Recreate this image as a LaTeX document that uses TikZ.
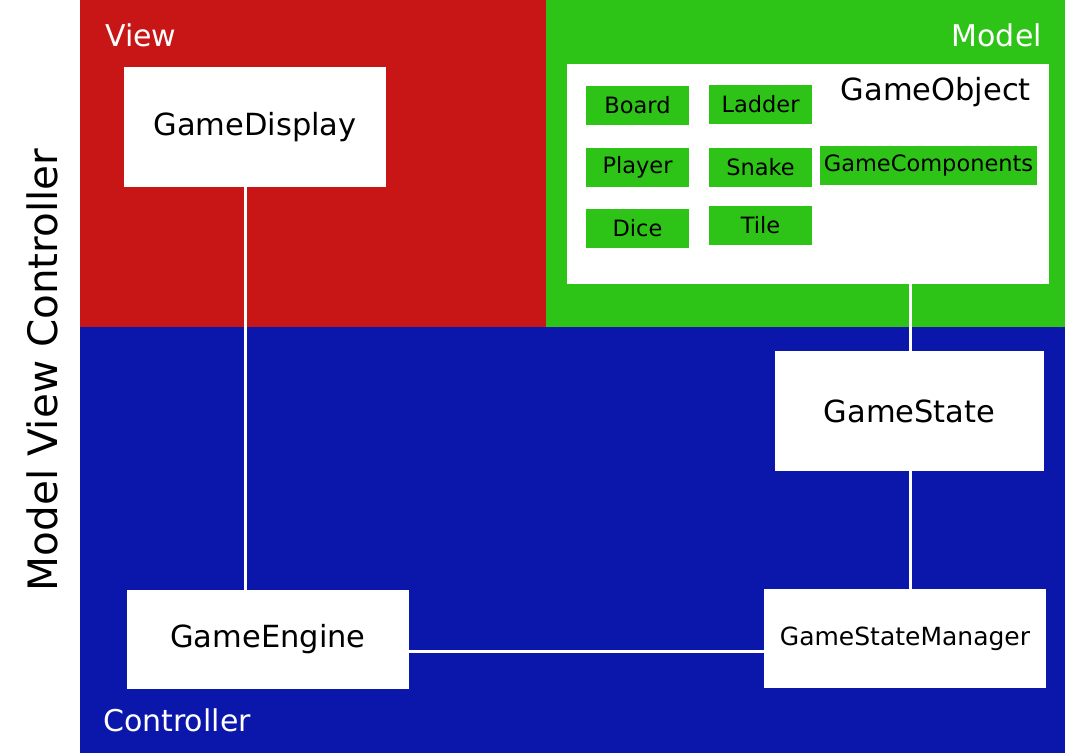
\documentclass[tikz,border=0pt]{standalone}
\usepackage{fontspec}
\setmainfont{DejaVu Sans}
\definecolor{vred}{RGB}{200,22,22}
\definecolor{mgreen}{RGB}{46,196,23}
\definecolor{cblue}{RGB}{11,23,170}
\tikzset{
  wbox/.style={fill=white,draw=none,inner sep=0pt,outer sep=0pt,font=\fontsize{30.5}{30.5}\selectfont},
  gbox/.style={fill=mgreen,draw=none,inner sep=0pt,outer sep=0pt,font=\fontsize{22.5}{22.5}\selectfont},
  rlabel/.style={text=white,inner sep=0pt,font=\fontsize{30}{30}\selectfont},
  link/.style={draw=white,line width=3pt}
}
\begin{document}
\begin{tikzpicture}[x=1pt,y=-1pt]
\useasboundingbox (0,0) rectangle (1065,753);
\fill[white] (0,0) rectangle (1065,753);
% regions
\fill[vred] (80,0) rectangle (546,327);
\fill[mgreen] (546,0) rectangle (1065,327);
\fill[cblue] (80,327) rectangle (1065,753);
% region labels
\node[rlabel,anchor=west] (lview) at (105,35) {View};
\node[rlabel,anchor=east] (lmodel) at (1042,35) {Model};
\node[rlabel,anchor=west] (lctrl) at (103,720) {Controller};
\node[rotate=90,inner sep=0pt,font=\fontsize{40.5}{40.5}\selectfont] (title) at (42,370) {Model View Controller};
% boxes
\node[wbox,minimum width=262,minimum height=120] (disp) at (255,127) {\raisebox{-2pt}{GameDisplay}};
\node[wbox,minimum width=482,minimum height=220] (gobj) at (808,174) {};
\node[inner sep=0pt,anchor=east,font=\fontsize{30.5}{30.5}\selectfont] (gobjl) at (1031,92) {GameObject};
\node[wbox,minimum width=269,minimum height=120] (gstate) at (909.5,411) {\raisebox{-3pt}{GameState}};
\node[wbox,minimum width=282,minimum height=99] (engine) at (268,639.5) {GameEngine};
\node[wbox,minimum width=282,minimum height=99,font=\fontsize{25}{25}\selectfont] (gsm) at (905,638.5) {GameStateManager};
% green items
\node[gbox,minimum width=103,minimum height=39] (board) at (637.5,105.5) {Board};
\node[gbox,minimum width=103,minimum height=39] (ladder) at (760.5,104.5) {Ladder};
\node[gbox,minimum width=103,minimum height=39] (player) at (637.5,167.5) {Player};
\node[gbox,minimum width=103,minimum height=39] (snake) at (760.5,167.5) {Snake};
\node[gbox,minimum width=217,minimum height=39] (gcomp) at (928.5,165.5) {GameComponents};
\node[gbox,minimum width=103,minimum height=39] (dice) at (637.5,228.5) {Dice};
\node[gbox,minimum width=103,minimum height=39] (tile) at (760.5,225.5) {Tile};
% links
\draw[link] (disp.south -| 245,0) -- (engine.north -| 245,0);
\draw[link] (gobj.south -| 910,0) -- (gstate.north -| 910,0);
\draw[link] (gstate.south -| 910,0) -- (gsm.north -| 910,0);
\draw[link] (engine.east |- 0,651) -- (gsm.west |- 0,651);
\end{tikzpicture}
\end{document}
